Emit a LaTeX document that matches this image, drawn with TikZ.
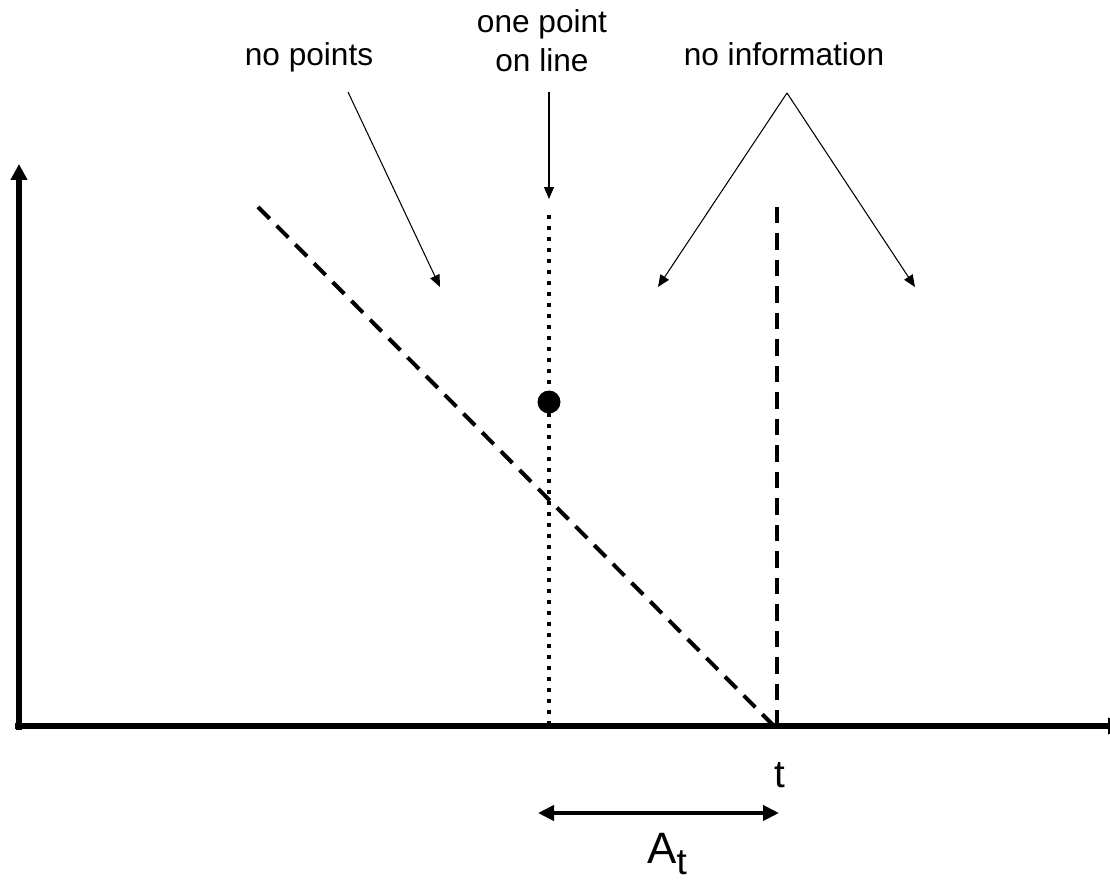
\documentclass[tikz,border=0pt]{standalone}
\usepackage{fontspec}
\setmainfont{Liberation Sans}
\usetikzlibrary{arrows.meta}

\begin{document}
\begin{tikzpicture}[x=0.02cm,y=-0.02cm,
  axis/.style={line width=0.11cm,-{Triangle[length=0.32cm,width=0.32cm]}},
  pointer/.style={line width=0.6pt,-{Triangle[length=0.24cm,width=0.2cm]}},
  lbl/.style={font=\fontsize{18}{22}\selectfont,anchor=base,inner sep=0pt},
  dashline/.style={line width=0.08cm,dash pattern=on 0.33cm off 0.2cm},
  dotline/.style={line width=0.08cm,dash pattern=on 0.08cm off 0.14cm}]
\useasboundingbox (0,0) rectangle (1110,882);
% assi
\coordinate (O) at (19,726);
\draw[axis] (19,730) -- (19,164);
\draw[axis] (15,726) -- (1124,726);
% retta tratteggiata e linee verticali
\draw[dashline] (258,207) -- (773,725);
\draw[dotline] (549,215) -- (549,726);
\draw[dashline] (777,207) -- (777,726);
\fill (549,402) circle (0.23cm);
% etichette in alto
\node[lbl] (nopts) at (309,66) {no points};
\node[lbl] (onept) at (542,33) {one point};
\node[lbl] (online) at (542,72) {on line};
\node[lbl] (noinfo) at (784,66) {no information};
\coordinate (s1) at (348,92);
\coordinate (s2) at (549,92);
\coordinate (s3) at (787,93);
\coordinate (e1) at (440,287);
\coordinate (e2) at (549,199);
\coordinate (e3) at (658,287);
\coordinate (e4) at (915,287);
\draw[pointer] (s1) -- (e1);
\draw[pointer] (s2) -- (e2);
\draw[pointer] (s3) -- (e3);
\draw[pointer] (s3) -- (e4);
% intervallo A_t
\node[font=\fontsize{22}{26}\selectfont,anchor=base,inner sep=0pt] (t) at (780,787) {t};
\coordinate (a1) at (538,813);
\coordinate (a2) at (779,813);
\draw[line width=0.08cm,{Triangle[length=0.32cm,width=0.3cm]}-{Triangle[length=0.32cm,width=0.3cm]}] (a1) -- (a2);
\node[font=\fontsize{25}{30}\selectfont,anchor=base west,inner sep=0pt] (At) at (647,863)
  {A\raisebox{-0.22cm}[\height][0pt]{\fontsize{21}{24}\selectfont t}};
\end{tikzpicture}
\end{document}
